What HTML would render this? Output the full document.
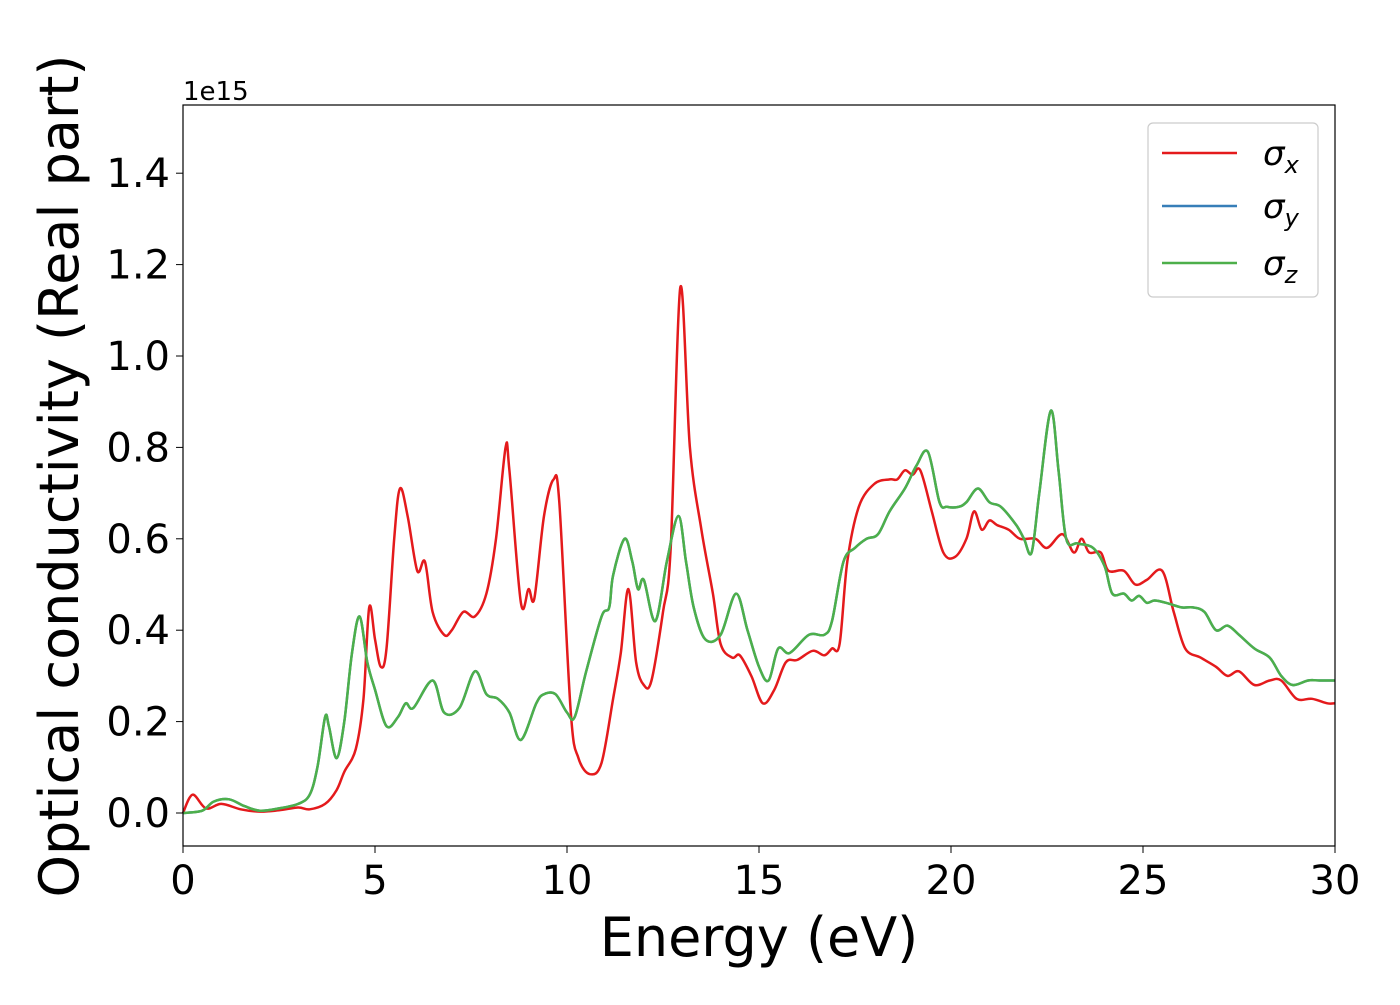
<!DOCTYPE html>
<html><head><meta charset="utf-8"><style>
body{margin:0;background:#fff;}
svg text{font-family:"DejaVu Sans","Liberation Sans",sans-serif;}
</style></head><body>
<svg id="chart" width="1400" height="1000" viewBox="0 0 1400 1000" xmlns="http://www.w3.org/2000/svg">
<rect width="1400" height="1000" fill="#fff"/>
<g id="plot"></g>
<rect x="183" y="105" width="1152" height="741" fill="none" stroke="#000" stroke-width="1.2"/>
<g id="xticks"></g>
<g id="yticks"></g>
<text x="183" y="100" font-size="26">1e15</text>
<text x="759" y="956" font-size="54" text-anchor="middle">Energy (eV)</text>
<text transform="translate(78,476) rotate(-90)" font-size="54" text-anchor="middle">Optical conductivity (Real part)</text>
<g>
<rect x="1148" y="123" width="170" height="174" rx="5" fill="#fff" stroke="#ccc" stroke-width="1.2"/>
<line x1="1162" y1="153" x2="1237" y2="153" stroke="#e41a1c" stroke-width="2.5"/>
<text x="1263" y="165" font-size="34" font-style="italic">σ<tspan font-size="24" dy="8">x</tspan></text>
<line x1="1162" y1="206" x2="1237" y2="206" stroke="#377eb8" stroke-width="2.5"/>
<text x="1263" y="218" font-size="34" font-style="italic">σ<tspan font-size="24" dy="8">y</tspan></text>
<line x1="1162" y1="263" x2="1237" y2="263" stroke="#4daf4a" stroke-width="2.5"/>
<text x="1263" y="275" font-size="34" font-style="italic">σ<tspan font-size="24" dy="8">z</tspan></text>
</g>
</svg>
<script>
const xTicks=[0,5,10,15,20,25,30];
const yTicks=[0.0,0.2,0.4,0.6,0.8,1.0,1.2,1.4];
const energyX=[0,0.25,0.6,1,1.5,2,2.5,3,3.3,3.7,4,4.2,4.5,4.7,4.85,5.0,5.15,5.3,5.5,5.65,5.85,6.1,6.3,6.5,6.8,7.0,7.3,7.6,7.9,8.15,8.4,8.5,8.8,9.0,9.15,9.4,9.65,9.8,10.1,10.3,10.6,10.9,11.2,11.4,11.6,11.8,12.0,12.2,12.5,12.7,12.95,13.2,13.5,13.8,14.0,14.3,14.5,14.8,15.1,15.4,15.7,16.0,16.4,16.7,16.9,17.1,17.3,17.6,18.0,18.4,18.6,18.8,19.0,19.2,19.5,19.8,20.1,20.4,20.6,20.8,21.0,21.2,21.5,21.8,22.2,22.5,22.9,23.2,23.4,23.6,23.9,24.1,24.5,24.8,25.1,25.5,25.8,26.1,26.5,26.9,27.2,27.5,27.9,28.3,28.6,29.0,29.4,29.8,30];
const sigmaX=[0,0.04,0.01,0.02,0.008,0.003,0.006,0.012,0.008,0.02,0.05,0.09,0.14,0.25,0.45,0.38,0.32,0.36,0.6,0.71,0.65,0.53,0.55,0.44,0.39,0.4,0.44,0.43,0.48,0.6,0.8,0.75,0.46,0.49,0.47,0.65,0.73,0.68,0.22,0.12,0.085,0.11,0.25,0.35,0.49,0.33,0.28,0.29,0.44,0.58,1.15,0.8,0.62,0.48,0.37,0.34,0.345,0.3,0.24,0.27,0.33,0.335,0.355,0.345,0.36,0.37,0.55,0.67,0.72,0.73,0.73,0.75,0.74,0.75,0.66,0.57,0.56,0.6,0.66,0.62,0.64,0.63,0.62,0.6,0.6,0.58,0.61,0.57,0.6,0.57,0.57,0.53,0.53,0.5,0.51,0.53,0.44,0.36,0.34,0.32,0.3,0.31,0.28,0.29,0.29,0.25,0.25,0.24,0.24];
const energyZ=[0,0.5,0.8,1.2,1.6,2.0,2.5,3.0,3.3,3.5,3.7,3.8,4.0,4.2,4.4,4.6,4.8,5.0,5.3,5.6,5.8,6.0,6.5,6.8,7.2,7.6,7.9,8.2,8.5,8.8,9.2,9.4,9.7,10.0,10.2,10.5,10.9,11.1,11.2,11.5,11.7,11.85,12.0,12.3,12.6,12.9,13.1,13.3,13.6,14.0,14.4,14.7,15.0,15.25,15.5,15.8,16.3,16.7,16.9,17.2,17.5,17.8,18.1,18.4,18.8,19.1,19.4,19.7,19.9,20.2,20.4,20.7,21.0,21.3,21.7,21.9,22.1,22.3,22.6,22.8,23.0,23.3,23.7,24.0,24.2,24.5,24.7,24.9,25.1,25.3,25.6,26.0,26.3,26.6,26.9,27.2,27.5,27.9,28.3,28.6,28.9,29.3,29.6,30];
const sigmaZ=[0,0.005,0.025,0.03,0.015,0.005,0.01,0.02,0.04,0.1,0.21,0.19,0.12,0.2,0.35,0.43,0.33,0.27,0.19,0.21,0.24,0.23,0.29,0.22,0.23,0.31,0.26,0.25,0.22,0.16,0.24,0.26,0.26,0.22,0.21,0.31,0.43,0.45,0.52,0.6,0.55,0.49,0.51,0.42,0.55,0.65,0.55,0.45,0.38,0.39,0.48,0.4,0.32,0.29,0.36,0.35,0.39,0.39,0.42,0.55,0.58,0.6,0.61,0.66,0.71,0.76,0.79,0.68,0.67,0.67,0.68,0.71,0.68,0.67,0.63,0.6,0.57,0.7,0.88,0.75,0.6,0.59,0.58,0.54,0.48,0.48,0.465,0.475,0.46,0.465,0.46,0.45,0.45,0.44,0.4,0.41,0.39,0.36,0.34,0.3,0.28,0.29,0.29,0.29];
const sigmaY=sigmaZ.slice();

const NS="http://www.w3.org/2000/svg";
const X0=183,X1=1335,Y0=813,PXU=457;
function sx(v){return X0+(v-0)/(30-0)*(X1-X0);}
function sy(v){return Y0-v*PXU;}
function pathFor(xs,ys){
  const p=xs.map((x,i)=>[sx(x),sy(ys[i])]);
  let d="M"+p[0][0].toFixed(1)+","+p[0][1].toFixed(1);
  for(let i=0;i<p.length-1;i++){
    const a=p[Math.max(i-1,0)],b=p[i],c=p[i+1],e=p[Math.min(i+2,p.length-1)];
    const c1x=b[0]+(c[0]-a[0])/6,c1y=b[1]+(c[1]-a[1])/6;
    const c2x=c[0]-(e[0]-b[0])/6,c2y=c[1]-(e[1]-b[1])/6;
    d+=" C"+c1x.toFixed(1)+","+c1y.toFixed(1)+" "+c2x.toFixed(1)+","+c2y.toFixed(1)+" "+c[0].toFixed(1)+","+c[1].toFixed(1);
  }
  return d;
}
const plot=document.getElementById("plot");
const series=[["sigma-x-line",energyX,sigmaX,"#e41a1c"],["sigma-y-line",energyZ,sigmaY,"#377eb8"],["sigma-z-line",energyZ,sigmaZ,"#4daf4a"]];
series.forEach(s=>{
  const el=document.createElementNS(NS,"path");
  el.setAttribute("d",pathFor(s[1],s[2]));
  el.setAttribute("fill","none");
  el.setAttribute("stroke",s[3]);
  el.setAttribute("stroke-width","2.5");
  el.setAttribute("stroke-linejoin","round");
  
  
  plot.appendChild(el);
});
const xg=document.getElementById("xticks");
xTicks.forEach(t=>{
  const l=document.createElementNS(NS,"line");
  l.setAttribute("x1",sx(t));l.setAttribute("x2",sx(t));l.setAttribute("y1",846);l.setAttribute("y2",853);
  l.setAttribute("stroke","#000");
  
  
  xg.appendChild(l);
  const tx=document.createElementNS(NS,"text");
  tx.setAttribute("x",sx(t));tx.setAttribute("y",894);tx.setAttribute("font-size","40");tx.setAttribute("text-anchor","middle");
  tx.textContent=String(t);
  
  
  xg.appendChild(tx);
});
const yg=document.getElementById("yticks");
yTicks.forEach(t=>{
  const l=document.createElementNS(NS,"line");
  l.setAttribute("x1",176);l.setAttribute("x2",183);l.setAttribute("y1",sy(t));l.setAttribute("y2",sy(t));
  l.setAttribute("stroke","#000");
  
  
  yg.appendChild(l);
  const tx=document.createElementNS(NS,"text");
  tx.setAttribute("x",170);tx.setAttribute("y",sy(t)+14);tx.setAttribute("font-size","40");tx.setAttribute("text-anchor","end");
  tx.textContent=t.toFixed(1);
  
  
  yg.appendChild(tx);
});
</script>
</body></html>
